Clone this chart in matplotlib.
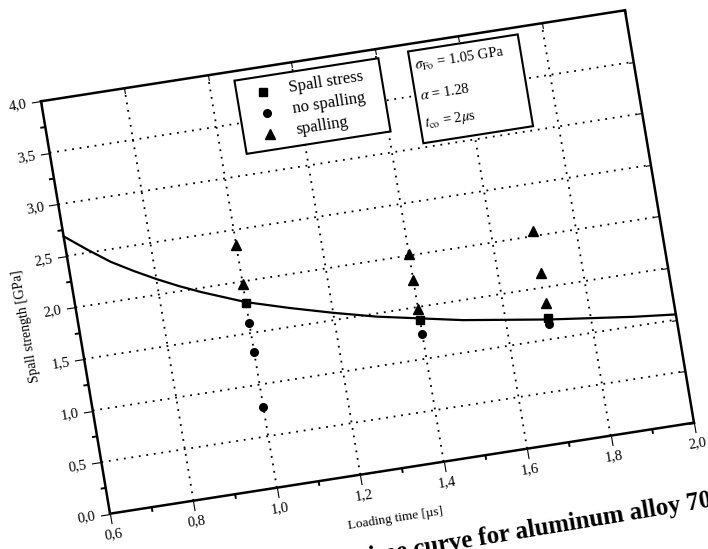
import numpy as np
import matplotlib
matplotlib.use("Agg")
import matplotlib.pyplot as plt
import matplotlib.ticker as mticker
from matplotlib.transforms import Affine2D
from matplotlib.patches import Rectangle
import mpl_toolkits.axisartist.floating_axes as floating_axes
from mpl_toolkits.axisartist.grid_finder import FixedLocator

plt.rcParams['font.family'] = ['Liberation Serif', 'DejaVu Serif']
plt.rcParams['mathtext.fontset'] = 'stix'

# ---------------- data ----------------
curve_t = [0.60, 0.65, 0.70, 0.75, 0.80, 0.85, 0.90, 0.95, 1.00, 1.10, 1.20,
           1.30, 1.40, 1.50, 1.60, 1.70, 1.80, 1.90, 2.00]
curve_s = [2.69, 2.53, 2.38, 2.26, 2.15, 2.05, 1.96, 1.88, 1.80, 1.68, 1.57,
           1.47, 1.39, 1.31, 1.25, 1.19, 1.14, 1.09, 1.05]
stress_t = [1.00, 1.40, 1.70]
stress_s = [1.79, 1.37, 1.20]
nospall_t = [1.00, 1.00, 1.00, 1.40, 1.70]
nospall_s = [1.60, 1.32, 0.78, 1.24, 1.15]
spall_t = [1.00, 1.00, 1.40, 1.40, 1.40, 1.70, 1.70, 1.70]
spall_s = [2.35, 1.98, 2.01, 1.76, 1.48, 2.05, 1.64, 1.35]

x_ticks = [0.6, 0.8, 1.0, 1.2, 1.4, 1.6, 1.8, 2.0]
y_ticks = [0.0, 0.5, 1.0, 1.5, 2.0, 2.5, 3.0, 3.5, 4.0]
x_minor = [0.7, 0.9, 1.1, 1.3, 1.5, 1.7, 1.9]
y_minor = [0.25, 0.75, 1.25, 1.75, 2.25, 2.75, 3.25, 3.75]

legend_labels = ["Spall stress", "no spalling", "spalling"]
legend_markers = ["s", "o", "^"]
param_labels = [r"$\sigma_{\mathrm{Fo}}$ = 1.05 GPa", r"$\alpha$ = 1.28",
                r"$t_{\mathrm{co}}$ = 2$\mu$s"]
x_label = "Loading time [µs]"
y_label = "Spall strength [GPa]"
caption = "time curve for aluminum alloy 7075"

# ---------------- skewed / rotated frame (scanned page) ----------------
M = np.array([[417.1, -17.25, 0.0],
              [65.0, 103.1, 0.0],
              [0.0, 0.0, 1.0]])
tr = Affine2D(M)
ang = np.degrees(np.arctan2(M[1, 0], M[0, 0]))
ang_y = np.degrees(np.arctan2(M[1, 1], M[0, 1]))

fmt = mticker.FuncFormatter(lambda v, p: f"{v:.1f}".replace(".", ","))
gh = floating_axes.GridHelperCurveLinear(
    tr, extremes=(0.6, 2.0, 0.0, 4.0),
    grid_locator1=FixedLocator(x_ticks), grid_locator2=FixedLocator(y_ticks),
    tick_formatter1=fmt, tick_formatter2=fmt)

fig = plt.figure(figsize=(7.08, 5.49), dpi=100)
ax = fig.add_axes([0.0487, 0.0528, 0.9407, 0.940],
                  axes_class=floating_axes.FloatingAxes, grid_helper=gh)
aux = ax.get_aux_axes(tr)

ax.grid(True, color="black", linestyle=(0, (1.0, 3.2)), linewidth=1.3)

for d in ["left", "bottom", "right", "top"]:
    a = ax.axis[d]
    a.line.set_linewidth(1.8)
    a.major_ticks.set_linewidth(1.5)
for d in ["left", "bottom"]:
    a = ax.axis[d]
    try:
        a.major_ticks.set_tick_out(True)
    except Exception:
        pass
    a.major_ticks.set_ticksize(7)
    a.major_ticklabels.set_fontsize(10.5)
for d in ["right", "top"]:
    ax.axis[d].toggle(ticklabels=False, label=False)
    ax.axis[d].major_ticks.set_ticksize(4)

# axis titles, placed in the rotated frame
aux.text(1.265, -0.47, x_label, rotation=ang, rotation_mode="anchor",
         ha="center", va="center", fontsize=9.5, clip_on=False)
aux.text(0.478, 1.90, y_label, rotation=ang_y, rotation_mode="anchor",
         ha="center", va="center", fontsize=10, clip_on=False)

# minor ticks (outward)
for xm in x_minor:
    aux.plot([xm, xm], [0.0, -0.045], color="black", lw=1.4,
             clip_on=False, solid_capstyle="butt")
for ym in y_minor:
    aux.plot([0.6, 0.6 - 0.012], [ym, ym], color="black", lw=1.4,
             clip_on=False, solid_capstyle="butt")

# curve and points
aux.plot(curve_t, curve_s, color="black", lw=1.6, zorder=4)
aux.plot(stress_t, stress_s, "s", color="black", ms=5.5, zorder=6)
aux.plot(nospall_t, nospall_s, "o", color="black", ms=5.5, zorder=6)
aux.plot(spall_t, spall_s, "^", color="black", ms=6.5, zorder=6)

# legend box (drawn in the rotated frame)
aux.add_patch(Rectangle((1.06, 3.20), 0.345, 0.71, facecolor="white",
                        edgecolor="black", lw=1.5, zorder=7))
leg_y = [3.76, 3.555, 3.355]
for yy, lab, mk in zip(leg_y, legend_labels, legend_markers):
    aux.plot([1.123], [yy], mk, color="black",
             ms=5.5 if mk != "^" else 6.5, zorder=8)
    aux.text(1.185, yy, lab, rotation=ang, rotation_mode="anchor",
             ha="left", va="center", fontsize=12, zorder=8)

# parameter box
aux.add_patch(Rectangle((1.477, 3.04), 0.263, 0.89, facecolor="white",
                        edgecolor="black", lw=1.5, zorder=7))
par_y = [3.78, 3.49, 3.22]
for yy, lab in zip(par_y, param_labels):
    aux.text(1.488, yy, lab, rotation=ang, rotation_mode="anchor",
             ha="left", va="center", fontsize=10.5, zorder=8)

# caption of the scanned page (cut off by the page edge, as in the scan)
fig.text(362 / 708, 1 - 565 / 549, caption, rotation=9.5,
         rotation_mode="anchor", ha="left", va="baseline",
         fontsize=18, fontweight="bold")

fig.savefig("out.png", dpi=100)
